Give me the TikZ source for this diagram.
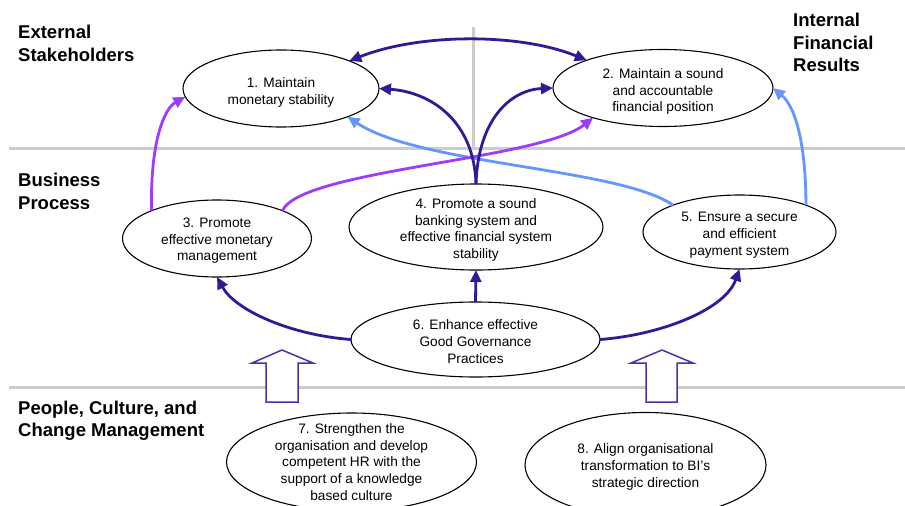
\documentclass[tikz,border=0pt]{standalone}
\usepackage{fontspec}
\setmainfont{Liberation Sans}
\usetikzlibrary{shapes.geometric,arrows.meta}
\definecolor{darkind}{RGB}{50,25,150}
\definecolor{vio}{RGB}{155,60,255}
\definecolor{skyb}{RGB}{100,150,255}
\definecolor{divgrey}{RGB}{204,204,204}
\definecolor{blockc}{RGB}{70,50,170}
\newcommand\txtlift[1]{\rule{0pt}{#1}}
\tikzset{
  goal/.style={ellipse, draw=black, line width=1.1pt, fill=white, inner xsep=0pt, inner ysep=-14pt,
    outer sep=0pt, align=center, font=\fontsize{13.7}{16.7}\selectfont},
  lane/.style={font=\bfseries\fontsize{18.5}{22.7}\selectfont, align=left, anchor=base west, inner sep=0pt},
  divider/.style={draw=divgrey, line width=3pt},
  link/.style={line width=2.8pt, -{Triangle[length=12pt,width=11pt]}},
  dlink/.style={line width=2.8pt, {Triangle[length=12pt,width=11pt]}-{Triangle[length=12pt,width=11pt]}},
  hollowarrow/.style={draw=blockc, line width=1.5pt, fill=white, line join=miter}
}
\begin{document}
\begin{tikzpicture}[x=1pt,y=-1pt]
\useasboundingbox (0,0) rectangle (905,506);
\clip (0,0) rectangle (905,506);
\fill[white] (0,0) rectangle (905,506);

% dividers
\draw[divider] (9,148) -- (905,148);
\draw[divider] (9,387) -- (905,387);
\draw[divider] (473,27) -- (473,148);

% lane labels (anchored at the baseline of the last line)
\node[lane] (lext) at (18,61) {External\\Stakeholders};
\node[lane] (lbus) at (18,209) {Business\\Process};
\node[lane] (lpeo) at (18,436.7) {People, Culture, and\\Change Management};
\node[lane] (lint) at (793,71.7) {Internal\\Financial\\Results};

% goals
\node[goal, minimum width=196pt, minimum height=77pt] (e1) at (281,88.5) {\txtlift{18pt}1. Maintain\\monetary stability};
\node[goal, minimum width=220pt, minimum height=77pt] (e2) at (663,88) {\txtlift{17pt}2. Maintain a sound\\and accountable\\financial position};
\node[goal, minimum width=189pt, minimum height=77pt] (e3) at (217,238.5) {\txtlift{14pt}3. Promote\\effective monetary\\management};
\node[goal, minimum width=254pt, minimum height=86pt] (e4) at (476,227) {\txtlift{16pt}4. Promote a sound\\banking system and\\effective financial system\\stability};
\node[goal, minimum width=193pt, minimum height=74pt] (e5) at (739.5,232) {\txtlift{16pt}5. Ensure a secure\\and efficient\\payment system};
\node[goal, minimum width=249pt, minimum height=75pt] (e6) at (475.5,339.5) {\txtlift{14pt}6. Enhance effective\\Good Governance\\Practices};
\node[goal, minimum width=250pt, minimum height=98pt] (e7) at (351.5,462) {7. Strengthen the\\organisation and develop\\competent HR with the\\support of a knowledge\\based culture};
\node[goal, minimum width=241pt, minimum height=105pt] (e8) at (645.5,465) {\txtlift{14pt}8. Align organisational\\transformation to BI's\\strategic direction};

% hollow block arrows
\draw[hollowarrow] (282,350) -- (313,363) -- (298,363) -- (298,402) -- (266,402) -- (266,363) -- (252,363) -- cycle;
\draw[hollowarrow] (662,350) -- (693,363) -- (677,363) -- (677,402) -- (646,402) -- (646,363) -- (631,363) -- cycle;

% connectors
\draw[dlink, darkind] (e1.22) .. controls (420,33) and (520,33) .. (e2.160);
\draw[link, skyb] (e5.158) .. controls (620,168) and (420,165) .. (e1.-23);
\draw[link, vio] (e3.23) .. controls (300,170) and (540,160) .. (e2.203);
\draw[link, darkind] (e4.north) .. controls (474,120) and (430,92) .. (e1.east);
\draw[link, darkind] (e4.north) .. controls (478,120) and (510,90) .. (e2.west);
\draw[link, vio] (e3.157) .. controls (150,140) and (165,108) .. (e1.185);
\draw[link, skyb] (e5.22) .. controls (806,150) and (797,108) .. (e2.east);
\draw[link, darkind] (e6.west) .. controls (290,335) and (235,310) .. (e3.south);
\draw[link, darkind] (e6.east) .. controls (660,335) and (725,310) .. (e5.south);
\draw[link, darkind] (e6.north) -- (e4.south);
\end{tikzpicture}
\end{document}
